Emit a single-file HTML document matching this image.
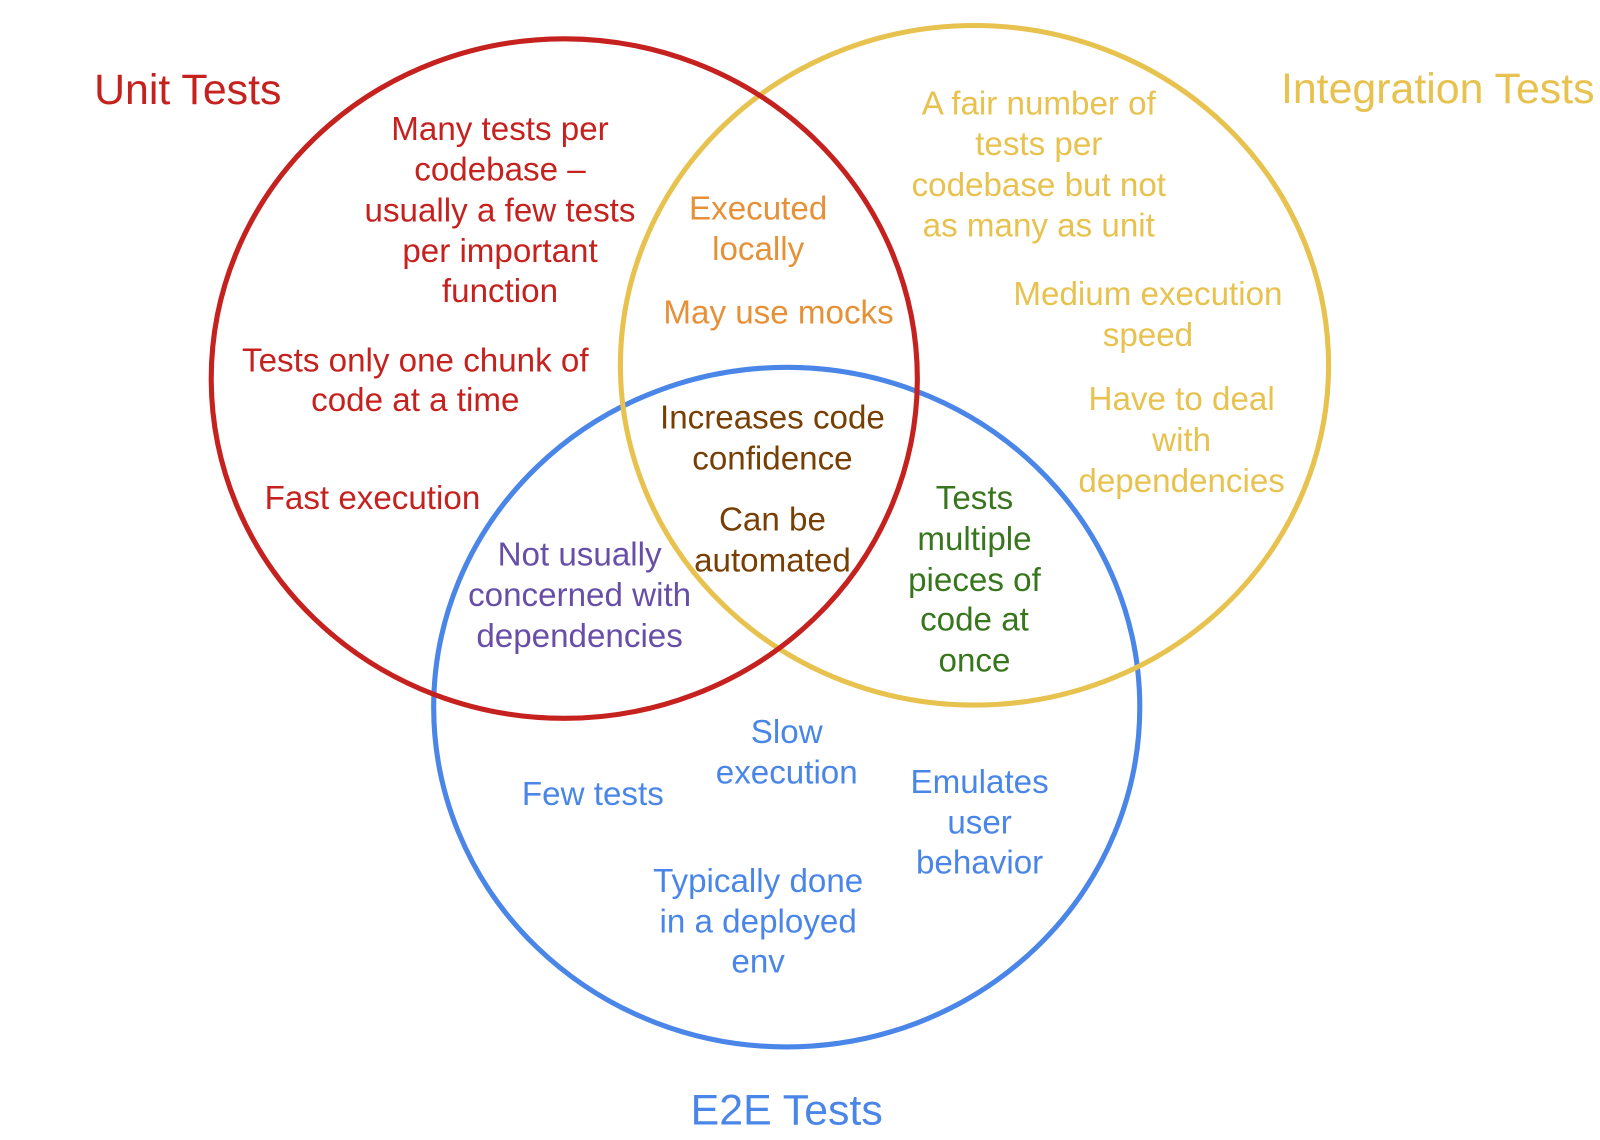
<!DOCTYPE html>
<html><head><meta charset="utf-8"><style>
html,body{margin:0;padding:0;background:#fff;}
svg{display:block;}
text{font-family:"Liberation Sans",Arial,sans-serif;font-size:32.5px;text-anchor:middle;}
</style></head><body>
<svg width="1600" height="1140" viewBox="0 0 1600 1140" xmlns="http://www.w3.org/2000/svg">
<rect width="1600" height="1140" fill="#fff"/>
<g transform="scale(1.0204)">
<ellipse cx="771" cy="693" rx="346" ry="333" fill="none" stroke="#4a86e8" stroke-width="5"/>
<ellipse cx="955" cy="358" rx="347" ry="333" fill="none" stroke="#e8c24f" stroke-width="5"/>
<ellipse cx="553" cy="371" rx="346" ry="333" fill="none" stroke="#c5221f" stroke-width="5"/>

<g fill="#c5221f">
<text x="184" y="102" style="font-size:42px">Unit Tests</text>
<text x="490" y="137">Many tests per</text>
<text x="490" y="177">codebase –</text>
<text x="490" y="217">usually a few tests</text>
<text x="490" y="257">per important</text>
<text x="490" y="296">function</text>
<text x="407" y="364">Tests only one chunk of</text>
<text x="407" y="403">code at a time</text>
<text x="365" y="499">Fast execution</text>
</g>
<g fill="#e8c24f">
<text x="1409" y="101" style="font-size:42px">Integration Tests</text>
<text x="1018" y="112">A fair number of</text>
<text x="1018" y="152">tests per</text>
<text x="1018" y="192">codebase but not</text>
<text x="1018" y="232">as many as unit</text>
<text x="1125" y="299">Medium execution</text>
<text x="1125" y="339">speed</text>
<text x="1158" y="402">Have to deal</text>
<text x="1158" y="442">with</text>
<text x="1158" y="482">dependencies</text>
</g>
<g fill="#e69138">
<text x="743" y="215">Executed</text>
<text x="743" y="255">locally</text>
<text x="763" y="317">May use mocks</text>
</g>
<g fill="#783f04">
<text x="757" y="420">Increases code</text>
<text x="757" y="460">confidence</text>
<text x="757" y="520">Can be</text>
<text x="757" y="560">automated</text>
</g>
<g fill="#38761d">
<text x="955" y="499">Tests</text>
<text x="955" y="539">multiple</text>
<text x="955" y="579">pieces of</text>
<text x="955" y="618">code at</text>
<text x="955" y="658">once</text>
</g>
<g fill="#674ea7">
<text x="568" y="554">Not usually</text>
<text x="568" y="594">concerned with</text>
<text x="568" y="634">dependencies</text>
</g>
<g fill="#4a86e8">
<text x="771" y="728">Slow</text>
<text x="771" y="768">execution</text>
<text x="581" y="789">Few tests</text>
<text x="960" y="777">Emulates</text>
<text x="960" y="817">user</text>
<text x="960" y="856">behavior</text>
<text x="743" y="874">Typically done</text>
<text x="743" y="914">in a deployed</text>
<text x="743" y="953">env</text>
<text x="771" y="1102" style="font-size:42px">E2E Tests</text>
</g>
</g>
</svg>
</body></html>
